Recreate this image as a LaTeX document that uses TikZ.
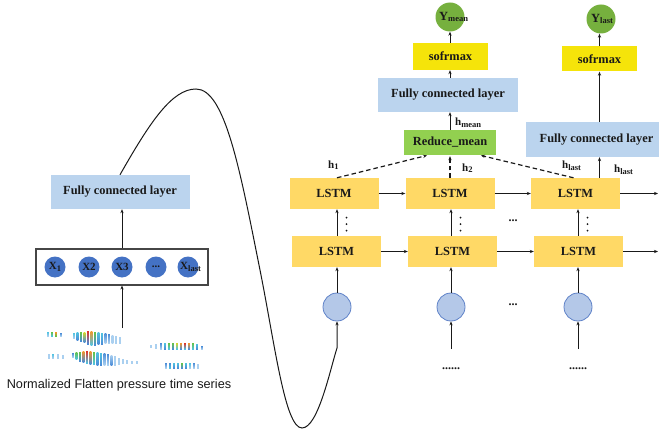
\documentclass[tikz,border=0pt]{standalone}
\usepackage{fontspec}
\setmainfont{Liberation Serif}
\newfontfamily\capfont{Liberation Sans}
\usetikzlibrary{arrows.meta,calc}

\definecolor{lstmc}{RGB}{255,217,102}
\definecolor{smc}{RGB}{245,228,10}
\definecolor{fcblue}{RGB}{187,212,238}
\definecolor{rmgreen}{RGB}{146,208,80}
\definecolor{ygreen}{RGB}{118,176,62}
\definecolor{xblue}{RGB}{68,114,196}
\definecolor{infill}{RGB}{180,200,232}
\definecolor{inedge}{RGB}{95,130,200}
\definecolor{xframe}{RGB}{70,70,70}
\definecolor{ink}{RGB}{25,25,25}
% heat-map palette
\definecolor{hmr}{RGB}{225,50,40}
\definecolor{hmo}{RGB}{245,150,40}
\definecolor{hmy}{RGB}{215,215,40}
\definecolor{hmg}{RGB}{100,195,70}
\definecolor{hmc}{RGB}{80,195,225}
\definecolor{hmb}{RGB}{75,140,215}
\definecolor{hmp}{RGB}{170,208,240}

% lowered, smaller index text
\newcommand\lowsub[1]{\raisebox{-1.6pt}{\fontsize{8.5}{9}\selectfont #1}}

\begin{document}
\begin{tikzpicture}[x=1pt,y=-1pt,
  boxtxt/.style={font=\bfseries\fontsize{12.4}{14}\selectfont, text=ink, inner sep=0pt},
  fcbox/.style={boxtxt, fill=fcblue},
  lstmbox/.style={boxtxt, fill=lstmc, minimum width=89pt, minimum height=31pt},
  smbox/.style={boxtxt, fill=smc, minimum width=75pt},
  xc/.style={circle, fill=xblue, minimum size=21pt, inner sep=0pt},
  inc/.style={circle, fill=infill, draw=inedge, line width=0.8pt, minimum size=28pt, inner sep=0pt},
  yc/.style={circle, fill=ygreen, minimum size=29pt, inner sep=0pt},
  lab/.style={font=\bfseries\fontsize{11}{13}\selectfont, text=ink, inner sep=0pt},
  arr/.style={draw=ink, line width=1pt, -{Stealth[length=4pt,width=3.2pt]}},
  dasharr/.style={arr, dash pattern=on 4.5pt off 3pt, line width=1.2pt},
  dotsym/.style={font=\bfseries\fontsize{12}{14}\selectfont, text=ink, inner sep=0pt}
]
\useasboundingbox (0,0) rectangle (659,433);

% ---------- left branch: flattened input ----------
\node[fcbox, minimum width=139pt, minimum height=34pt] (fcL) at (120,192) {Fully connected layer};
\node[draw=xframe, line width=1.1pt, minimum width=172pt, minimum height=36pt, inner sep=0pt] (xbox) at (122,267) {};
\node[xc] (x1) at (55,267) {};
\node[xc] (x2) at (89,267) {};
\node[xc] (x3) at (122,267) {};
\node[xc] (x4) at (156,267) {};
\node[xc] (x5) at (188,267) {};
\node[lab] (x1t) at (x1) {X\lowsub{1}};
\node[lab] (x2t) at (x2) {X2};
\node[lab] (x3t) at (x3) {X3};
\node[lab] (x4t) at (x4) {...};
\node[lab, anchor=west] (x5t) at ([xshift=-8pt]x5.center) {X\lowsub{last}};

% heat-map strips of the pressure series
\foreach \x/\a/\b/\c/\d in {
  47/332/336/hmc/hmp, 51/332/336/hmg/hmc, 55/332/336/hmo/hmg, 60/333/336/hmb/hmp,
  73/333/338/hmc/hmp, 76.5/332/340/hmc/hmb, 80/332/341/hmg/hmb, 83.5/332/342/hmy/hmb,
  87/331/344/hmr/hmb, 90.5/331/345/hmo/hmc, 94/332/345/hmg/hmb, 97.5/332/344/hmc/hmb,
  101/333/344/hmc/hmb, 104.5/333/343/hmb/hmp, 108/334/343/hmb/hmp, 111.5/335/343/hmp/hmp,
  115/336/343/hmp/hmp, 119/337/343/hmp/hmp,
  150/345/347/hmp/hmp, 155/344/348/hmp/hmp, 160/343/349/hmb/hmp, 164/343/349/hmc/hmb,
  168/343/349/hmg/hmc, 172/343/349/hmg/hmb, 176/343/349/hmy/hmc, 180/343/349/hmo/hmb,
  184/343/349/hmr/hmc, 188/343/349/hmo/hmb, 192/343/349/hmg/hmc, 196/344/349/hmc/hmb,
  201/346/349/hmb/hmp,
  48/354/358/hmp/hmp, 52/354/358/hmc/hmp, 57/354/358/hmp/hmp, 62/355/358/hmp/hmp,
  72/353/357/hmb/hmp, 75.5/352/359/hmg/hmc, 79/352/361/hmg/hmb, 82.5/351/362/hmo/hmb,
  86/351/363/hmr/hmc, 89.5/351/364/hmo/hmb, 93/352/364/hmg/hmc, 96.5/352/365/hmc/hmb,
  100/353/365/hmc/hmb, 103.5/353/365/hmb/hmp, 107/354/365/hmb/hmp, 110.5/355/365/hmp/hmb,
  114/356/365/hmp/hmp, 118/358/364/hmp/hmp, 122/359/363/hmp/hmp, 126/360/363/hmp/hmp,
  131/361/363/hmp/hmp, 136/361/363/hmp/hmp,
  165/363/368/hmb/hmp, 169/363/368/hmb/hmc, 173/363/368/hmc/hmb, 177/363/368/hmc/hmb,
  181/363/368/hmg/hmb, 185/363/368/hmc/hmb, 189/363/368/hmc/hmp, 193/363/368/hmb/hmp,
  197/364/368/hmp/hmp}
  {\fill[top color=\c, bottom color=\d] (\x,\a) rectangle (\x+1.8,\b);}

\coordinate (hmtop) at (122,328);
\node[font=\capfont\fontsize{12.7}{15}\selectfont, text=ink, inner sep=0pt] (cap) at (119,385)
  {Normalized Flatten pressure time series};

\draw[arr] (hmtop) -- (xbox.south);
\draw[arr] (xbox.north -| x3) -- (fcL.south -| x3);

% ---------- right branch: stacked LSTM ----------
\node[lstmbox] (t1) at (334,193.5) {LSTM};
\node[lstmbox] (t2) at (450,193.5) {LSTM};
\node[lstmbox] (t3) at (575.5,193.5) {LSTM};
\node[lstmbox] (b1) at (336.5,251.5) {LSTM};
\node[lstmbox] (b2) at (452.5,251.5) {LSTM};
\node[lstmbox] (b3) at (578.5,251.5) {LSTM};
\node[inc] (c1) at (337,307) {};
\node[inc] (c2) at (451,307) {};
\node[inc] (c3) at (578,307) {};

\coordinate (tout) at (658,193.5);
\coordinate (bout) at (658,251.5);
\draw[arr] (t1.east) -- (t2.west);
\draw[arr] (t2.east) -- (t3.west);
\draw[arr] (t3.east) -- (tout);
\draw[arr] (b1.east) -- (b2.west);
\draw[arr] (b2.east) -- (b3.west);
\draw[arr] (b3.east) -- (bout);

\foreach \i in {1,2,3}{
  \draw[arr] (c\i.north) -- (c\i |- b\i.south);
  \draw[arr] (c\i |- b\i.north) -- (c\i |- t\i.south);
  \foreach \k in {0,1,2}
    \fill[ink] ([xshift=9.5pt, yshift=-8.5pt-6.5*\k pt]c\i |- t\i.south) circle (1pt);
}

\coordinate (in2) at (451,349);
\coordinate (in3) at (578,349);
\draw[arr] (in2) -- (c2.south);
\draw[arr] (in3) -- (c3.south);

\node[dotsym] (gapA) at (513,221) {...};
\node[dotsym] (gapB) at (513,305) {...};
\node[dotsym] (moreA) at (451,369) {......};
\node[dotsym] (moreB) at (578,369) {......};

% curve carrying the left features into the first time step
\draw[arr] (fcL.north) .. controls (150,122) and (172,89) .. (196,89)
  .. controls (225,89) and (240,170) .. (260,270)
  .. controls (275,345) and (285,428) .. (302,428)
  .. controls (318,428) and (330,370) .. (337,348) -- (c1.south);

% ---------- mean head ----------
\node[boxtxt, fill=rmgreen, minimum width=92pt, minimum height=25pt] (rm) at (450,142.5) {Reduce\_mean};
\node[fcbox, minimum width=140pt, minimum height=34pt] (fcM) at (448,95) {Fully connected layer};
\node[smbox, minimum height=27pt] (sm1) at (450.5,56.5) {sofrmax};
\node[yc] (ym) at (450,17) {};
\node[lab, font=\bfseries\fontsize{12.5}{14}\selectfont, anchor=west] (ymt) at (439,17) {Y\lowsub{mean}};

\draw[dasharr, shorten >=1pt] ([xshift=3pt]t1.north) -- (rm.-150);
\draw[dasharr, shorten >=1pt] (t2.north) -- (rm.south);
\draw[dasharr, shorten >=1pt] ([xshift=-2pt]t3.north) -- (rm.-23);
\draw[arr] (rm.north) -- (rm.north |- fcM.south);
\draw[arr] (rm.north |- fcM.north) -- (rm.north |- sm1.south);
\draw[arr] (rm.north |- sm1.north) -- (ym.south);

\node[lab, anchor=west] (h1) at (328,165) {h\lowsub{1}};
\node[lab, anchor=west] (h2) at (462,168) {h\lowsub{2}};
\node[lab, anchor=west] (hl1) at (562,166) {h\lowsub{last}};
\node[lab, anchor=west] (hm) at (455,123) {h\lowsub{mean}};

% ---------- last-step head ----------
\node[fcbox, minimum width=133pt, minimum height=35pt] (fcR) at (592.5,139.5) {\hspace*{8pt}Fully connected layer};
\node[smbox, minimum height=25pt] (sm2) at (599.5,59) {sofrmax};
\node[yc] (yl) at (601,19) {};
\node[lab, font=\bfseries\fontsize{12.5}{14}\selectfont, anchor=west] (ylt) at (591,19) {Y\lowsub{last}};
\coordinate (lastx) at (599.5,0);
\draw[arr] (lastx |- t3.north) -- (lastx |- fcR.south);
\draw[arr] (lastx |- fcR.north) -- (sm2.south);
\draw[arr] (sm2.north) -- (sm2.north |- yl.south);
\node[lab, anchor=west] (hl2) at (614,170) {h\lowsub{last}};

\end{tikzpicture}
\end{document}
